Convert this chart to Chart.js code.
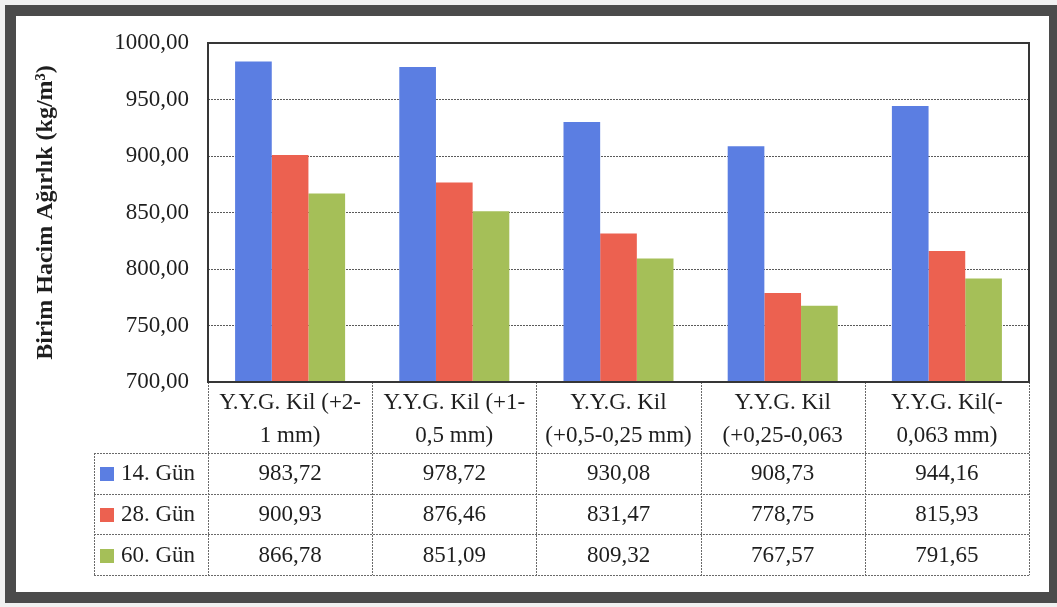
<!DOCTYPE html>
<html>
<head>
<meta charset="utf-8">
<script src="https://cdn.jsdelivr.net/npm/chart.js@4.4.1/dist/chart.umd.min.js"></script>
<style>
  html, body { margin: 0; padding: 0; overflow: hidden; background: #f1f1f1; }
  #frame {
    position: absolute; left: 5px; top: 5px;
    width: 1033px; height: 576px;
    border: 11px solid #4b4b4b; background: #fff;
  }
  #chart { position: absolute; left: 0; top: 0; }
</style>
</head>
<body>
<div id="frame"></div>
<canvas id="chart" width="1057" height="607"></canvas>
<script>
// categories are already split into the two lines shown in the table header
const categories = [
  ['Y.Y.G. Kil (+2-', '1 mm)'],
  ['Y.Y.G. Kil (+1-', '0,5 mm)'],
  ['Y.Y.G. Kil', '(+0,5-0,25 mm)'],
  ['Y.Y.G. Kil', '(+0,25-0,063'],
  ['Y.Y.G. Kil(-', '0,063 mm)']
];
const seriesNames = ['14. Gün', '28. Gün', '60. Gün'];
const gun14 = [983.72, 978.72, 930.08, 908.73, 944.16];
const gun28 = [900.93, 876.46, 831.47, 778.75, 815.93];
const gun60 = [866.78, 851.09, 809.32, 767.57, 791.65];
const yTicks = [700, 750, 800, 850, 900, 950, 1000];

const colors = ['#5b7ee2', '#ec6150', '#a5bf58'];
const serif = "'Liberation Serif', 'Times New Roman', serif";
const fmt = v => v.toFixed(2).replace('.', ',');

// data table under the plot, columns follow the x scale
const dataTable = {
  id: 'dataTable',
  afterDraw(chart) {
    const { ctx, chartArea: a, scales: { x } } = chart;
    const half = (x.getPixelForValue(1) - x.getPixelForValue(0)) / 2;
    const headTop = a.bottom, headBottom = 453, rowH = 40.7;
    const keyCol = 94;
    const rows = chart.data.datasets.length;
    const tableBottom = headBottom + rows * rowH;

    ctx.save();
    ctx.strokeStyle = '#6a6a6a';
    ctx.lineWidth = 1;
    ctx.setLineDash([2, 1]);
    ctx.beginPath();
    // vertical lines at category edges
    for (let i = 0; i <= categories.length; i++) {
      const px = Math.round(x.getPixelForValue(i) - half) + 0.5;
      ctx.moveTo(px, headTop);
      ctx.lineTo(px, tableBottom);
    }
    // legend column left edge
    ctx.moveTo(keyCol + 0.5, headBottom);
    ctx.lineTo(keyCol + 0.5, tableBottom);
    // row separators
    for (let r = 0; r <= rows; r++) {
      const py = Math.round(headBottom + r * rowH) + 0.5;
      ctx.moveTo(keyCol, py);
      ctx.lineTo(a.right, py);
    }
    ctx.stroke();
    ctx.setLineDash([]);

    ctx.fillStyle = '#1e1e1e';
    ctx.font = '23px ' + serif;
    ctx.textAlign = 'center';
    ctx.textBaseline = 'middle';

    // header: wrapped category names
    const headMid = (headTop + headBottom) / 2;
    chart.data.labels.forEach((lines, i) => {
      const cx = x.getPixelForValue(i);
      ctx.fillText(lines[0], cx, headMid - 15);
      ctx.fillText(lines[1], cx, headMid + 18);
    });

    // series rows with legend keys
    chart.data.datasets.forEach((ds, r) => {
      const cy = headBottom + r * rowH + rowH / 2 + 1;
      ctx.fillStyle = ds.backgroundColor;
      ctx.fillRect(100, Math.round(cy - 7), 14, 14);
      ctx.fillStyle = '#1e1e1e';
      ctx.textAlign = 'left';
      ctx.fillText(ds.label, 121, cy);
      ctx.textAlign = 'center';
      ds.data.forEach((v, i) => ctx.fillText(fmt(v), x.getPixelForValue(i), cy));
    });

    // plot area border
    ctx.strokeStyle = '#363636';
    ctx.lineWidth = 2;
    ctx.strokeRect(a.left, a.top, a.right - a.left, a.bottom - a.top);
    ctx.restore();
  }
};

new Chart(document.getElementById('chart'), {
  type: 'bar',
  data: {
    labels: categories,
    datasets: [gun14, gun28, gun60].map((d, i) => ({
      label: seriesNames[i],
      data: d,
      backgroundColor: colors[i],
      borderWidth: 0,
      categoryPercentage: 0.67,
      barPercentage: 1
    }))
  },
  options: {
    responsive: false,
    animation: false,
    layout: { padding: { top: 43, right: 28, bottom: 225, left: 0 } },
    plugins: {
      legend: { display: false },
      tooltip: { enabled: false }
    },
    scales: {
      x: { display: false },
      y: {
        min: yTicks[0],
        max: yTicks[yTicks.length - 1],
        afterBuildTicks: s => { s.ticks = yTicks.map(v => ({ value: v })); },
        afterFit: s => { s.width = 208; },
        grid: { color: '#5a5a5a', lineWidth: 1, drawTicks: false },
        border: { display: false, dash: [2, 1] },
        ticks: {
          padding: 19,
          color: '#1e1e1e',
          font: { family: serif, size: 23 },
          callback: v => fmt(v)
        },
        title: {
          display: true,
          text: 'Birim Hacim Ağırlık (kg/m³)',
          color: '#1e1e1e',
          font: { family: serif, size: 24, weight: 'bold' },
          padding: { top: 31 }
        }
      }
    }
  },
  plugins: [dataTable]
});
</script>
</body>
</html>
